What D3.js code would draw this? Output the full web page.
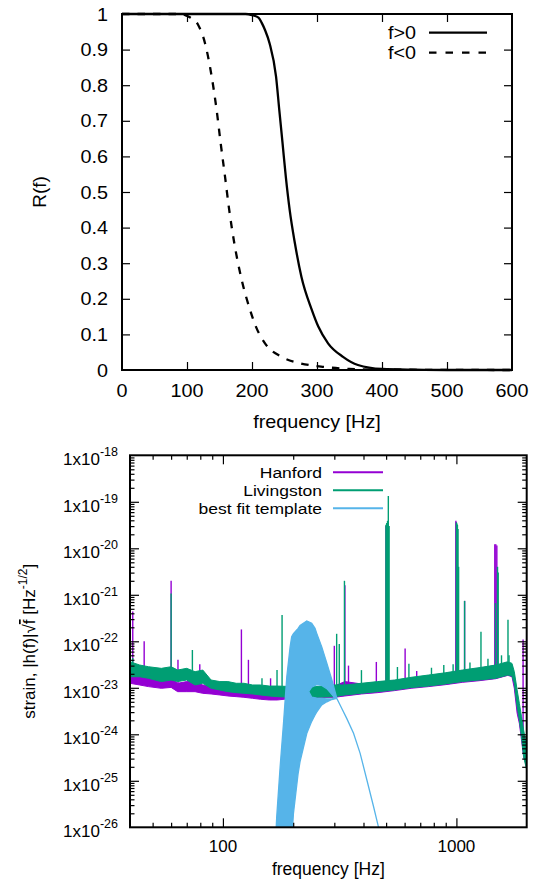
<!DOCTYPE html>
<html><head><meta charset="utf-8">
<script src="https://cdn.jsdelivr.net/npm/d3@7"></script>
<style>
body{margin:0;background:#fff}
svg{display:block}
text{font-family:"Liberation Sans",Arial,Helvetica,sans-serif;fill:#000}
</style>
</head><body>
<svg id="c" width="537" height="884"></svg>
<script>
// ---------- top panel data ----------
const posFreq=[0,50,100,150,190,200,210,215,220,227,237,242,247,252,258,266,276,292,302,317,340,363,400,450,500,600];
const posR=[1,1,1,1,1,0.997,0.99,0.975,0.955,0.918,0.824,0.73,0.637,0.543,0.449,0.356,0.262,0.169,0.122,0.075,0.037,0.014,0.003,0.001,0,0];
const negFreq=[0,50,90,97,105,117,127.7,138,145.6,151.8,158.5,165,172.8,183,197,206,220,245.6,274,309,350,400,600];
const negR=[1,1,1,0.997,0.99,0.97,0.918,0.824,0.73,0.637,0.543,0.449,0.356,0.262,0.169,0.122,0.075,0.037,0.019,0.009,0.003,0.001,0];
const topXTicks=[0,100,200,300,400,500,600];
const topXLabels=["0","100","200","300","400","500","600"];
const topYTicks=[0,0.1,0.2,0.3,0.4,0.5,0.6,0.7,0.8,0.9,1];
const topYLabels=["0","0.1","0.2","0.3","0.4","0.5","0.6","0.7","0.8","0.9","1"];
const topLegend=["f>0","f<0"];

// ---------- bottom panel data ----------
const bandFreq=[40,44,48,54.5,60,64,70,76,82,89,97,105,114,123,134,145,158,171,200,250,300,333,392,460,543,640,758,900,1060,1250,1474,1660,1730,1770,1820,1860,1900,1940,2000];
const hanHi=[2.22e-23,1.88e-23,1.73e-23,1.60e-23,1.60e-23,1.25e-23,1.36e-23,1.36e-23,1.15e-23,1.09e-23,9.75e-24,9.3e-24,8.98e-24,8.7e-24,8.26e-24,7.87e-24,7.61e-24,7.61e-24,8.26e-24,9.3e-24,1.09e-23,1.36e-23,1.21e-23,1.31e-23,1.42e-23,1.60e-23,1.79e-23,2.05e-23,2.33e-23,2.62e-23,3.03e-23,3.47e-23,3.09e-23,1.73e-23,5.47e-24,3.3e-24,2.03e-24,1.05e-24,4.6e-25];
const hanLo=[1.25e-23,1.15e-23,1.06e-23,9.75e-24,1.02e-23,8.26e-24,8.26e-24,8.26e-24,7.61e-24,7.37e-24,7.01e-24,6.67e-24,6.45e-24,6.25e-24,5.94e-24,5.66e-24,5.47e-24,5.47e-24,5.94e-24,6.25e-24,6.25e-24,6.67e-24,7.37e-24,7.87e-24,8.7e-24,9.75e-24,1.06e-23,1.17e-23,1.31e-23,1.42e-23,1.57e-23,1.85e-23,1.73e-23,9.75e-24,2.83e-24,1.72e-24,7.55e-25,3.3e-25,2.0e-25];
const livHi=[3.64e-23,3.09e-23,2.84e-23,2.62e-23,2.84e-23,2.41e-23,2.62e-23,2.22e-23,2.41e-23,1.47e-23,1.36e-23,1.36e-23,1.25e-23,1.25e-23,1.15e-23,1.15e-23,1.09e-23,1.09e-23,1.06e-23,1.06e-23,1.15e-23,1.15e-23,1.25e-23,1.36e-23,1.47e-23,1.68e-23,1.88e-23,2.11e-23,2.41e-23,2.71e-23,3.09e-23,3.64e-23,3.35e-23,2.22e-23,8.98e-24,4.64e-24,2.40e-24,1.24e-24,5.4e-25];
const livLo=[1.73e-23,1.73e-23,1.60e-23,1.36e-23,1.47e-23,1.36e-23,1.47e-23,1.15e-23,1.25e-23,9.75e-24,8.98e-24,8.26e-24,7.87e-24,7.61e-24,7.37e-24,7.01e-24,6.67e-24,6.45e-24,6.25e-24,6.25e-24,6.45e-24,7.01e-24,7.61e-24,8.26e-24,8.98e-24,1.01e-23,1.09e-23,1.21e-23,1.36e-23,1.47e-23,1.60e-23,1.88e-23,1.79e-23,1.25e-23,3.94e-24,2.03e-24,8.9e-25,3.3e-25,1.7e-25];

const hanSpikeFreq=[41.1,46,60,64.2,79.6,120,128.6,160,300,333,345,454,499,505,603,676,995,998,1084,1460,1475,1490,1930];
const hanSpikeTop=[4.4e-22,1.0e-22,2.0e-21,4e-23,3.2e-23,1.8e-22,4e-23,1.6e-23,8e-23,1.6e-21,3e-23,3.6e-23,3e-20,3e-20,7e-23,2.3e-23,3.9e-20,3.7e-20,7.4e-22,1.22e-20,1.22e-20,1.15e-20,1.1e-22];
const livSpikeFreq=[41.1,60,74,147,170.5,179.2,307,315,331.5,392,499,503,507,511,515,559,626,782,883,968,1000,1005,1010,1016,1022,1084,1143,1274,1365,1470,1500,1510,1560,1663,1680];
const livSpikeTop=[4.4e-23,1.07e-21,6.5e-23,1.6e-23,2.4e-23,3.7e-22,1.45e-22,8.7e-23,2.0e-21,2.4e-23,3.2e-20,3.5e-20,3.9e-20,1.33e-19,3.0e-20,2.8e-23,3.3e-23,2.7e-23,3.1e-23,3.2e-23,3.6e-20,3.4e-20,3.2e-20,2.6e-20,4e-21,7.4e-22,3.5e-23,1.6e-22,4.2e-23,6.6e-22,4e-21,3e-21,5e-23,2.9e-22,5e-23];

const tplFreq=[168,170,175.8,181.7,187.7,194,197,200.5,210,214,228.7,240,248,252,265,278.6,292.7,307.6,323,339,362.6,387,413.6,441.6,464,480];
const tplMax=[5e-27,1.7e-26,2e-25,1.7e-24,1.7e-23,7.6e-23,1.26e-22,1.47e-22,1.9e-22,2.2e-22,2.75e-22,2.45e-22,1.9e-22,1.5e-22,7.6e-23,3.4e-23,1.5e-23,5.9e-24,3.6e-24,2.2e-24,1.05e-24,3.9e-25,1.04e-25,2.8e-26,1e-26,5e-27];
const tplMin=[5e-27,5e-27,5e-27,5e-27,5e-27,5e-27,5e-27,2e-26,1.45e-25,2.6e-25,1.05e-24,1.9e-24,2.6e-24,3.0e-24,4.3e-24,5.0e-24,5.6e-24,5.9e-24,3.6e-24,2.2e-24,1.05e-24,3.9e-25,1.04e-25,2.8e-26,1e-26,5e-27];
const holeFreq=[233,240,252,265,278.6,292.7,300];
const holeTop=[8.3e-24,1.03e-23,1.17e-23,1.13e-23,9.6e-24,7.2e-24,6.2e-24];
const holeBot=[8.3e-24,6.3e-24,6.0e-24,5.9e-24,5.8e-24,5.75e-24,6.2e-24];

const botXTicks=[100,1000];
const botXLabels=["100","1000"];
const botYTicks=[1e-18,1e-19,1e-20,1e-21,1e-22,1e-23,1e-24,1e-25,1e-26];
const botYExp=["-18","-19","-20","-21","-22","-23","-24","-25","-26"];
const botLegend=["Hanford","Livingston","best fit template"];

const colHan="#9400d3", colLiv="#009e73", colTpl="#56b4e9";

const svg=d3.select("#c");

function stxt(g,x,y,s,anchor,size,sx){
  return g.append("text").attr("transform",`translate(${x},${y}) scale(${sx},1)`)
    .attr("text-anchor",anchor).style("font-size",size+"px").text(s);
}

// ================= TOP PANEL =================
const T={l:122,r:512,t:14,b:370};
const tx=d3.scaleLinear().domain([0,600]).range([T.l,T.r]);
const ty=d3.scaleLinear().domain([0,1]).range([T.b,T.t]);
const gt=svg.append("g");
const SX=1.1;

function inner(axis,g,size){
  g.call(axis.tickSize(-size).tickFormat(""));
  g.select(".domain").remove();
  g.selectAll(".tick line").attr("stroke","#000").attr("stroke-width",1.2);
}
const inTx=topXTicks.slice(1,-1), inTy=topYTicks.slice(1,-1);
inner(d3.axisBottom(tx).tickValues(inTx),gt.append("g").attr("transform",`translate(0,${T.b})`),8);
inner(d3.axisTop(tx).tickValues(inTx),gt.append("g").attr("transform",`translate(0,${T.t})`),8);
inner(d3.axisLeft(ty).tickValues(inTy),gt.append("g").attr("transform",`translate(${T.l},0)`),8);
inner(d3.axisRight(ty).tickValues(inTy),gt.append("g").attr("transform",`translate(${T.r},0)`),8);

topXTicks.forEach((v,i)=>stxt(gt,tx(v),T.b+27,topXLabels[i],"middle",18,SX));
topYTicks.forEach((v,i)=>stxt(gt,108,ty(v)+6.5,topYLabels[i],"end",18,SX));

const lineT=d3.line().curve(d3.curveMonotoneX);
gt.append("path").attr("d",lineT(negFreq.map((f,i)=>[tx(f),ty(negR[i])])))
  .attr("fill","none").attr("stroke","#000").attr("stroke-width",2.3).attr("stroke-dasharray","7.5,8");
gt.append("path").attr("d",lineT(posFreq.map((f,i)=>[tx(f),ty(posR[i])])))
  .attr("fill","none").attr("stroke","#000").attr("stroke-width",2.3);

gt.append("rect").attr("x",T.l).attr("y",T.t).attr("width",T.r-T.l).attr("height",T.b-T.t)
  .attr("fill","none").attr("stroke","#000").attr("stroke-width",2);

// legend
[32.7,52.7].forEach((y,i)=>{
  stxt(gt,416,y+6.5,topLegend[i],"end",18,SX);
  gt.append("line").attr("x1",429).attr("x2",487).attr("y1",y).attr("y2",y)
    .attr("stroke","#000").attr("stroke-width",2.3).attr("stroke-dasharray",i?"7.5,9":null);
});
stxt(gt,(T.l+T.r)/2,428,"frequency [Hz]","middle",18,SX);
gt.append("text").attr("transform",`translate(46,${(T.t+T.b)/2}) rotate(-90)`)
  .attr("text-anchor","middle").style("font-size","19px").text("R(f)");

// ================= BOTTOM PANEL =================
const B={l:130,r:526.7,t:455.3,b:827.3};
const bx=d3.scaleLog().domain([40,2000]).range([B.l,B.r]);
const by=d3.scaleLog().domain([1e-26,1e-18]).range([B.b,B.t]);
const gb=svg.append("g");
gb.append("clipPath").attr("id","clipB").append("rect")
  .attr("x",B.l).attr("y",B.t).attr("width",B.r-B.l).attr("height",B.b-B.t);
const plot=gb.append("g").attr("clip-path","url(#clipB)");

const bandArea=d3.area().x(d=>bx(d[0])).y0(d=>by(d[1])).y1(d=>by(d[2]));
function bandAt(vals,f){
  const s=d3.scaleLog().domain(bandFreq).range(vals.map(v=>Math.log10(v))).clamp(true);
  return Math.pow(10,s(f));
}
function drawDet(hi,lo,sf,st,col){
  plot.append("path").attr("d",bandArea(bandFreq.map((f,i)=>[f,lo[i],hi[i]])))
    .attr("fill",col).attr("stroke",col).attr("stroke-width",1);
  sf.forEach((f,i)=>{
    plot.append("line").attr("x1",bx(f)).attr("x2",bx(f))
      .attr("y1",by(bandAt(hi,f))).attr("y2",by(st[i]))
      .attr("stroke",col).attr("stroke-width",1.4);
  });
}
drawDet(hanHi,hanLo,hanSpikeFreq,hanSpikeTop,colHan);
drawDet(livHi,livLo,livSpikeFreq,livSpikeTop,colLiv);

// template: outer envelope with a hole (evenodd)
const tplArea=d3.area().x(d=>bx(d[0])).y0(d=>by(d[1])).y1(d=>by(d[2]));
const outer=tplArea(tplFreq.map((f,i)=>[f,tplMin[i],tplMax[i]]));
const hole=tplArea(holeFreq.map((f,i)=>[f,holeBot[i],holeTop[i]]));
plot.append("path").attr("d",outer+hole).attr("fill-rule","evenodd")
  .attr("fill",colTpl).attr("stroke",colTpl).attr("stroke-width",1.3);

// ticks
function logMinors(lo,hi){const a=[];for(let e=lo;e<hi;e++)for(let k=2;k<=9;k++)a.push(k*Math.pow(10,e));return a;}
const xMinor=logMinors(1,4).filter(v=>v>40&&v<2000&&botXTicks.indexOf(v)<0);
const yMinor=logMinors(-26,-18);
inner(d3.axisBottom(bx).tickValues(botXTicks),gb.append("g").attr("transform",`translate(0,${B.b})`),9);
inner(d3.axisBottom(bx).tickValues(xMinor),gb.append("g").attr("transform",`translate(0,${B.b})`),4.5);
inner(d3.axisTop(bx).tickValues(botXTicks),gb.append("g").attr("transform",`translate(0,${B.t})`),9);
inner(d3.axisTop(bx).tickValues(xMinor),gb.append("g").attr("transform",`translate(0,${B.t})`),4.5);
const yMajIn=botYTicks.slice(1,-1);
inner(d3.axisLeft(by).tickValues(yMajIn),gb.append("g").attr("transform",`translate(${B.l},0)`),9);
inner(d3.axisLeft(by).tickValues(yMinor),gb.append("g").attr("transform",`translate(${B.l},0)`),4.5);
inner(d3.axisRight(by).tickValues(yMajIn),gb.append("g").attr("transform",`translate(${B.r},0)`),9);
inner(d3.axisRight(by).tickValues(yMinor),gb.append("g").attr("transform",`translate(${B.r},0)`),4.5);

gb.append("rect").attr("x",B.l).attr("y",B.t).attr("width",B.r-B.l).attr("height",B.b-B.t)
  .attr("fill","none").attr("stroke","#000").attr("stroke-width",2);

botXTicks.forEach((v,i)=>gb.append("text").attr("x",bx(v)).attr("y",B.b+25)
  .attr("text-anchor","middle").style("font-size","17px").text(botXLabels[i]));
botYTicks.forEach((v,i)=>{
  const t=gb.append("text").attr("x",118).attr("y",by(v)+10).attr("text-anchor","end").style("font-size","17px");
  t.append("tspan").text("1x10");
  t.append("tspan").attr("dy",-9).style("font-size","12.5px").text(botYExp[i]);
});

// legend
const legCols=[colHan,colLiv,colTpl];
[472.3,490.3,508.3].forEach((y,i)=>{
  stxt(gb,322,y+5.5,botLegend[i],"end",15.5,1.13);
  gb.append("line").attr("x1",333).attr("x2",383).attr("y1",y).attr("y2",y)
    .attr("stroke",legCols[i]).attr("stroke-width",2);
});

gb.append("text").attr("x",(B.l+B.r)/2).attr("y",875).attr("text-anchor","middle")
  .style("font-size","17.5px").text("frequency [Hz]");

const yl=gb.append("text").attr("transform",`translate(35,${(B.t+B.b)/2}) rotate(-90)`)
  .attr("text-anchor","middle").style("font-size","17px");
yl.append("tspan").text("strain, |h(f)|\u221a");
yl.append("tspan").style("text-decoration","overline").text("f");
yl.append("tspan").text(" [Hz");
yl.append("tspan").attr("dy",-8).style("font-size","12px").text("-1/2");
yl.append("tspan").attr("dy",8).text("]");
</script>
</body></html>
